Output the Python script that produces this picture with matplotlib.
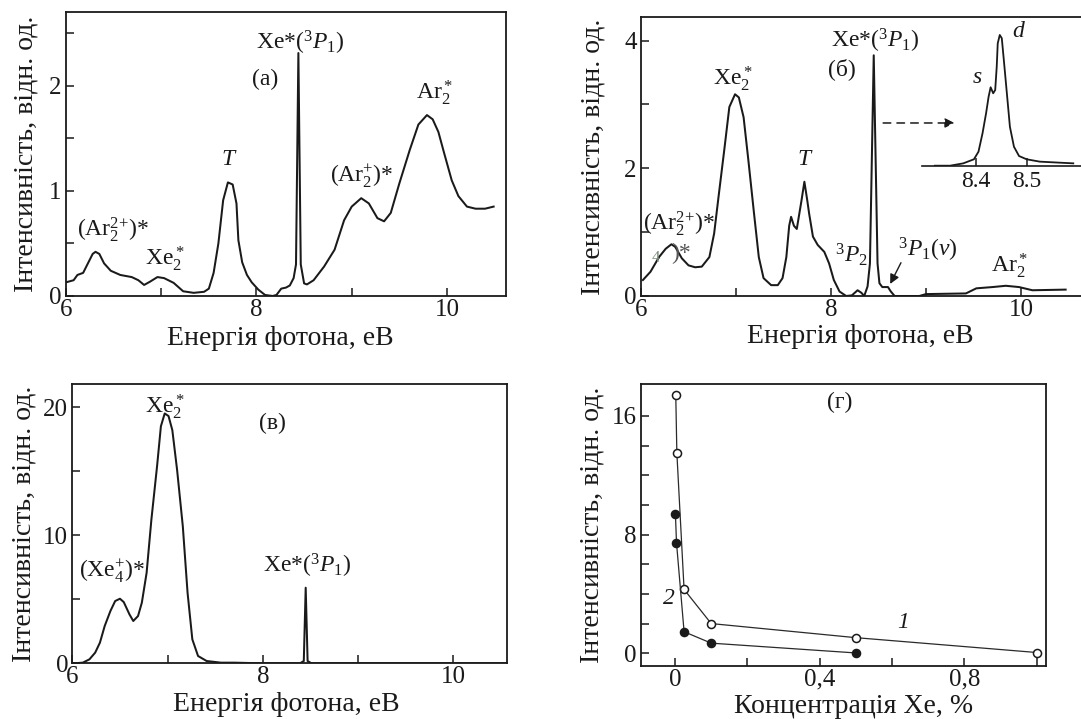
import matplotlib
matplotlib.use("Agg")
import matplotlib.pyplot as plt

plt.rcParams['font.family'] = ['Liberation Serif', 'DejaVu Serif']
plt.rcParams['mathtext.fontset'] = 'custom'
plt.rcParams['mathtext.rm'] = 'Liberation Serif'
plt.rcParams['mathtext.it'] = 'Liberation Serif:italic'
plt.rcParams['mathtext.bf'] = 'Liberation Serif:bold'

# ---- (а) Ar + trace Xe emission spectrum ----
energy_a = [6.00, 6.08, 6.12, 6.18, 6.23, 6.28, 6.31, 6.35, 6.40, 6.47, 6.57, 6.69,
            6.76, 6.82, 6.88, 6.96, 7.03, 7.13, 7.23, 7.34, 7.45, 7.50, 7.55, 7.60,
            7.65, 7.70, 7.75, 7.79, 7.81, 7.85, 7.90, 7.95, 8.02, 8.09, 8.17, 8.21,
            8.26, 8.31, 8.35, 8.39, 8.415, 8.44, 8.465, 8.50, 8.53, 8.60, 8.71, 8.82,
            8.92, 9.00, 9.10, 9.18, 9.27, 9.34, 9.41, 9.50, 9.61, 9.70, 9.79, 9.85,
            9.91, 9.97, 10.05, 10.12, 10.21, 10.30, 10.40, 10.49]
intensity_a = [0.13, 0.15, 0.20, 0.22, 0.31, 0.40, 0.42, 0.40, 0.31, 0.24, 0.20, 0.18,
               0.15, 0.105, 0.135, 0.18, 0.17, 0.125, 0.045, 0.03, 0.04, 0.07, 0.22, 0.50,
               0.91, 1.08, 1.06, 0.88, 0.53, 0.32, 0.20, 0.13, 0.06, 0.01, 0.0, 0.01,
               0.07, 0.08, 0.10, 0.17, 0.30, 2.31, 0.30, 0.12, 0.11, 0.15, 0.28, 0.44,
               0.72, 0.85, 0.93, 0.88, 0.74, 0.71, 0.79, 1.07, 1.39, 1.63, 1.72, 1.68,
               1.56, 1.36, 1.10, 0.95, 0.85, 0.83, 0.83, 0.85]

# ---- (б) spectrum at higher Xe content ----
energy_b = [6.02, 6.10, 6.19, 6.26, 6.32, 6.36, 6.43, 6.50, 6.57, 6.64, 6.72, 6.77,
            6.82, 6.88, 6.93, 6.99, 7.03, 7.08, 7.13, 7.19, 7.24, 7.29, 7.37, 7.44,
            7.49, 7.53, 7.56, 7.58, 7.61, 7.64, 7.69, 7.72, 7.75, 7.77, 7.81, 7.86,
            7.93, 7.98, 8.03, 8.09, 8.16, 8.22, 8.25, 8.28, 8.32, 8.35, 8.385, 8.41,
            8.45, 8.49, 8.51, 8.54, 8.60, 8.63, 8.67, 8.93, 9.00, 9.42, 9.53, 9.70,
            9.84, 9.98, 10.12, 10.47]
intensity_b = [0.25, 0.38, 0.61, 0.74, 0.81, 0.77, 0.59, 0.48, 0.45, 0.46, 0.61, 0.98,
               1.60, 2.33, 2.96, 3.16, 3.11, 2.80, 2.13, 1.29, 0.61, 0.28, 0.17, 0.17,
               0.28, 0.61, 1.10, 1.24, 1.10, 1.05, 1.50, 1.79, 1.50, 1.29, 0.93, 0.80,
               0.69, 0.51, 0.25, 0.07, 0.0, 0.01, 0.05, 0.09, 0.05, 0.0, 0.15, 0.51,
               3.77, 0.51, 0.20, 0.14, 0.14, 0.07, 0.0, 0.0, 0.03, 0.04, 0.12, 0.14,
               0.16, 0.14, 0.09, 0.10]

# resolved Xe*(3P1) line (inset), normalised to the d component
energy_inset = [8.319, 8.349, 8.375, 8.396, 8.405, 8.413, 8.420, 8.425, 8.429, 8.434,
                8.438, 8.441, 8.443, 8.447, 8.451, 8.455, 8.461, 8.467, 8.475, 8.485,
                8.500, 8.526, 8.566, 8.592]
intensity_inset = [0.0, 0.0, 0.018, 0.049, 0.107, 0.248, 0.401, 0.528, 0.600, 0.554,
                   0.579, 0.757, 0.936, 1.0, 0.975, 0.809, 0.554, 0.298, 0.145, 0.074,
                   0.049, 0.031, 0.023, 0.018]

# ---- (в) Xe-rich spectrum ----
energy_c = [6.02, 6.11, 6.18, 6.24, 6.29, 6.34, 6.40, 6.45, 6.50, 6.54, 6.60, 6.64,
            6.69, 6.73, 6.78, 6.83, 6.89, 6.93, 6.97, 7.01, 7.05, 7.10, 7.16, 7.21,
            7.26, 7.32, 7.41, 7.56, 7.70, 7.99, 8.39, 8.43, 8.45, 8.47, 8.51, 10.56]
intensity_c = [0.0, 0.05, 0.31, 0.83, 1.61, 2.91, 4.08, 4.86, 5.04, 4.78, 3.82, 3.30,
               3.69, 4.73, 7.06, 11.2, 15.4, 18.5, 19.5, 19.3, 18.2, 15.1, 10.7, 5.5,
               1.87, 0.57, 0.18, 0.05, 0.05, 0.0, 0.0, 0.18, 5.9, 0.18, 0.0, 0.0]

# ---- (г) intensity vs Xe concentration ----
conc_1 = [0.002, 0.005, 0.025, 0.1, 0.5, 1.0]
inten_1 = [17.4, 13.5, 4.3, 2.0, 1.05, 0.05]
conc_2 = [0.001, 0.004, 0.025, 0.1, 0.5]
inten_2 = [9.4, 7.45, 1.45, 0.68, 0.02]

W, H = 1081, 719
fig = plt.figure(figsize=(W / 100, H / 100), dpi=100)


def frame(l, r, t, b):
    return fig.add_axes([l / W, (H - b) / H, (r - l) / W, (b - t) / H])


INK = '#1a1a1a'
TICK_FS = 18
LAB_FS = 20
ANN_FS = 17
LW = 1.45
ylabel = 'Інтенсивність, відн. од.'
xlabel = 'Енергія фотона, еВ'


def style(ax):
    for s in ax.spines.values():
        s.set_linewidth(1.3)
        s.set_color(INK)
    ax.tick_params(direction='in', length=6, width=1.1, colors=INK,
                   labelsize=TICK_FS, pad=3)
    ax.tick_params(axis='x', pad=2)


def labels(ax, xl, xpos, ypos_x, ypos_y):
    ax.set_xlabel(xl, fontsize=LAB_FS, color=INK)
    ax.xaxis.set_label_coords(xpos, ypos_x)
    ax.xaxis.label.set_verticalalignment('center')
    ax.set_ylabel(ylabel, fontsize=LAB_FS, color=INK)
    ax.yaxis.set_label_coords(ypos_y, 0.5)
    ax.yaxis.label.set_verticalalignment('center')


def txt(ax, x, y, s, size=ANN_FS, **kw):
    ax.text(x, y, s, fontsize=size, ha='center', va='center', color=INK, **kw)


AR2_2PLUS = r'(Ar$_2^{2{+}}$)*'

# (а)
ax = frame(66, 506, 12, 296)
ax.plot(energy_a, intensity_a, color=INK, lw=LW)
ax.set_xlim(6, 10.62)
ax.set_ylim(0, 2.70)
ax.set_xticks([6, 7, 8, 9, 10], ['6', '', '8', '', '10'])
ax.set_yticks([0, 0.5, 1, 1.5, 2, 2.5], ['0', '', '1', '', '2', ''])
style(ax)
labels(ax, xlabel, 0.488, -0.150, -0.091)
txt(ax, 8.455, 2.41, 'Xe*($^3P_1$)')
txt(ax, 8.09, 2.06, '(а)')
txt(ax, 9.87, 1.93, r'Ar$_2^*$')
txt(ax, 7.71, 1.30, r'$T$')
txt(ax, 9.10, 1.14, r'(Ar$_2^{{+}}$)*')
txt(ax, 6.49, 0.63, AR2_2PLUS)
txt(ax, 7.04, 0.36, r'Xe$_2^*$')

# (б)
ax = frame(641, 1085, 17, 296)
ax.plot(energy_b, intensity_b, color=INK, lw=LW)
ax.set_xlim(6, 10.674)
ax.set_ylim(0, 4.37)
ax.set_xticks([6, 7, 8, 9, 10], ['6', '', '8', '', '10'])
ax.set_yticks([0, 1, 2, 3, 4], ['0', '', '2', '', '4'])
style(ax)
labels(ax, xlabel, 0.495, -0.146, -0.108)
txt(ax, 8.47, 4.0, 'Xe*($^3P_1$)')
txt(ax, 8.11, 3.56, '(б)')
txt(ax, 6.97, 3.40, r'Xe$_2^*$')
txt(ax, 7.73, 2.14, r'$T$')
txt(ax, 6.40, 1.14, AR2_2PLUS)
ax.text(6.16, 0.59, '4', fontsize=12, ha='center', va='center', color='#7a8a7a')
ax.text(6.42, 0.67, ')*', fontsize=ANN_FS, ha='center', va='center', color='#555555')
txt(ax, 8.21, 0.64, r'$^3P_2$')
txt(ax, 9.02, 0.72, r'$^3P_1(v)$')
txt(ax, 9.88, 0.48, r'Ar$_2^*$')
ax.annotate('', xy=(8.61, 0.15), xytext=(8.75, 0.56),
            arrowprops=dict(arrowstyle='-|>', color=INK, lw=1.0, mutation_scale=14))
ax.annotate('', xy=(9.33, 2.71), xytext=(8.52, 2.71),
            arrowprops=dict(arrowstyle='-|>', color=INK, lw=1.1, ls=(0, (5, 4)),
                            mutation_scale=14))

# inset with the resolved s/d structure
ins = frame(921.7, 1090, 30, 165.7)
ins.patch.set_alpha(0)
ins.plot(energy_inset, intensity_inset, color=INK, lw=1.3)
ins.set_xlim(8.293, 8.625)
ins.set_ylim(0, 1.038)
for side in ('top', 'right', 'left'):
    ins.spines[side].set_visible(False)
ins.spines['bottom'].set_linewidth(1.2)
ins.spines['bottom'].set_color(INK)
ins.set_yticks([])
ins.set_xticks([8.4, 8.5], ['8.4', '8.5'])
ins.tick_params(axis='x', direction='in', length=6, width=1.1, colors=INK,
                labelsize=17, pad=4)
ins.text(8.403, 0.676, 's', fontsize=ANN_FS, style='italic', ha='center', va='center',
         color=INK, clip_on=False)
ins.text(8.483, 1.03, 'd', fontsize=ANN_FS, style='italic', ha='center', va='center',
         color=INK, clip_on=False)

# (в)
ax = frame(72.3, 506.7, 384, 663.3)
ax.plot(energy_c, intensity_c, color=INK, lw=LW)
ax.set_xlim(6, 10.56)
ax.set_ylim(0, 21.8)
ax.set_xticks([6, 7, 8, 9, 10], ['6', '', '8', '', '10'])
ax.set_yticks([0, 5, 10, 15, 20], ['0', '', '10', '', '20'])
style(ax)
labels(ax, xlabel, 0.492, -0.148, -0.111)
txt(ax, 6.97, 20.05, r'Xe$_2^*$')
txt(ax, 8.10, 18.75, '(в)')
txt(ax, 6.42, 7.2, r'(Xe$_4^{{+}}$)*')
txt(ax, 8.47, 7.6, 'Xe*($^3P_1$)')

# (г)
ax = frame(640.7, 1046, 384, 666)
ax.plot(conc_1, inten_1, color='#2a2a2a', lw=0.9, marker='o', ms=5.8,
        mfc='white', mec=INK, mew=1.1)
ax.plot(conc_2, inten_2, color='#2a2a2a', lw=0.9, marker='o', ms=5.8,
        mfc=INK, mec=INK, mew=1.1)
ax.set_xlim(-0.095, 1.026)
ax.set_ylim(-0.86, 18.15)
ax.set_xticks([0, 0.2, 0.4, 0.6, 0.8, 1.0], ['0', '', '0,4', '', '0,8', ''])
ax.set_yticks(list(range(0, 17, 2)), ['0', '', '', '', '8', '', '', '', '16'])
style(ax)
labels(ax, 'Концентрація Xe, %', 0.526, -0.142, -0.121)
txt(ax, 0.455, 16.9, '(г)')
txt(ax, -0.017, 3.7, '2', style='italic')
txt(ax, 0.63, 2.1, '1', style='italic')

fig.savefig('out.png', dpi=100)
